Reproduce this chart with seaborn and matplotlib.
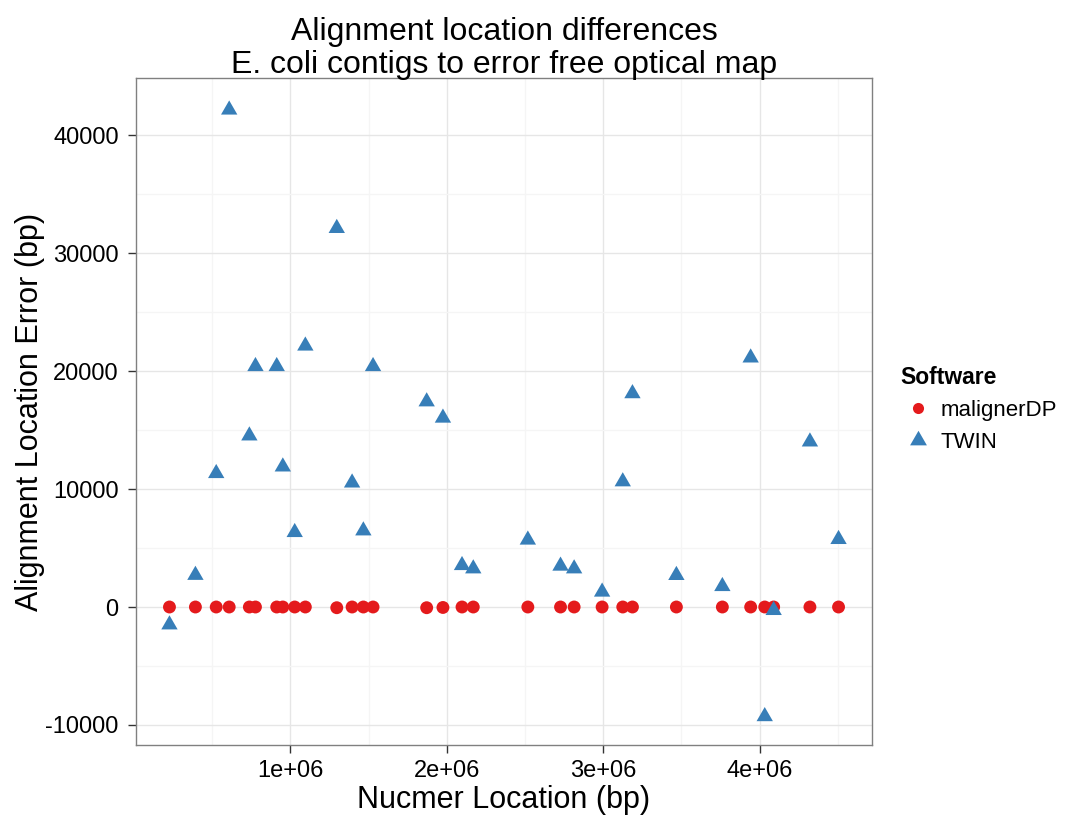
import numpy as np
import pandas as pd
import matplotlib
matplotlib.use("Agg")
import matplotlib.pyplot as plt
from matplotlib.path import Path
from matplotlib.ticker import FixedLocator
import seaborn as sns

# ---- data ----
nucmer_location = [226000, 392000, 525000, 608000, 737000, 776000, 912000, 951000,
                   1027000, 1095000, 1296000, 1394000, 1466000, 1528000, 1871000,
                   1975000, 2097000, 2169000, 2518000, 2727000, 2814000, 2993000,
                   3125000, 3187000, 3468000, 3762000, 3943000, 4033000, 4090000,
                   4322000, 4505000]
maligner_error = [0, 0, 0, 0, 0, 0, 0, 0, 0, 0, -60, 0, 0, 0, -60, -40, 0, 0, 0, 0,
                  0, 0, 0, 0, 0, 0, 0, 0, 0, 0, 0]
twin_error = [-1500, 2700, 11330, 42150, 14520, 20400, 20400, 11890, 6330, 22140,
              32110, 10530, 6470, 20400, 17410, 16030, 3530, 3250, 5690, 3480,
              3250, 1280, 10630, 18100, 2690, 1750, 21130, -9280, -280, 14010, 5740]
software_levels = ["malignerDP", "TWIN"]
x_ticks = [1e6, 2e6, 3e6, 4e6]
x_tick_labels = ["1e+06", "2e+06", "3e+06", "4e+06"]
y_ticks = [-10000, 0, 10000, 20000, 30000, 40000]

df = pd.DataFrame({
    "Nucmer Location (bp)": nucmer_location + nucmer_location,
    "Alignment Location Error (bp)": maligner_error + twin_error,
    "Software": [software_levels[0]] * len(nucmer_location) + [software_levels[1]] * len(nucmer_location),
})

sns.set_theme(style="white")
plt.rcParams["font.family"] = ["Liberation Sans", "DejaVu Sans"]
plt.rcParams["text.color"] = "black"
plt.rcParams["axes.labelcolor"] = "black"
plt.rcParams["xtick.color"] = "#333333"
plt.rcParams["ytick.color"] = "#333333"

fig = plt.figure(figsize=(10.72, 8.16), dpi=100)
ax = fig.add_axes([136 / 1072, 1 - 745 / 816, (872 - 136) / 1072, (745 - 78) / 816])

tri = Path([(0, 1), (-0.866, -0.5), (0.866, -0.5), (0, 1)],
           [Path.MOVETO, Path.LINETO, Path.LINETO, Path.CLOSEPOLY])

sns.scatterplot(data=df, x="Nucmer Location (bp)", y="Alignment Location Error (bp)",
                hue="Software", style="Software", size="Software",
                hue_order=software_levels, style_order=software_levels, size_order=software_levels,
                palette={"malignerDP": "#E41A1C", "TWIN": "#377EB8"},
                markers={"malignerDP": "o", "TWIN": tri},
                sizes={"malignerDP": 86, "TWIN": 185},
                linewidth=0, edgecolor="none", alpha=1, ax=ax, zorder=3)

ax.set_xlim(12000, 4719000)
ax.set_ylim(-11700, 44850)
ax.set_xticks(x_ticks)
ax.set_xticklabels(x_tick_labels)
ax.set_yticks(y_ticks)
ax.set_yticklabels([str(v) for v in y_ticks])
ax.xaxis.set_minor_locator(FixedLocator([0.5e6, 1.5e6, 2.5e6, 3.5e6, 4.5e6]))
ax.yaxis.set_minor_locator(FixedLocator([-5000, 5000, 15000, 25000, 35000]))

ax.grid(True, which="major", color="#E6E6E6", linewidth=1.0, zorder=0)
ax.grid(True, which="minor", color="#F5F5F5", linewidth=1.0, zorder=0)
ax.set_axisbelow(True)
for s in ax.spines.values():
    s.set_color("#808080")
    s.set_linewidth(1.0)

ax.tick_params(axis="both", which="major", direction="out", length=6, width=1.0,
               color="#333333", labelsize=17, labelcolor="black",
               bottom=True, left=True)
ax.tick_params(axis="x", which="major", pad=4.5)
ax.tick_params(axis="y", which="major", pad=6.5)
ax.tick_params(axis="both", which="minor", length=0)

ax.set_xlabel("Nucmer Location (bp)", fontsize=22, labelpad=2.5, color="black")
ax.set_ylabel("Alignment Location Error (bp)", fontsize=22, labelpad=0.5, color="black")
ax.set_title("Alignment location differences\nE. coli contigs to error free optical map",
             fontsize=23, pad=3.5, linespacing=1.15, color="black")

sns.move_legend(ax, loc="upper left", bbox_to_anchor=(900 / 1072, 1 - 366 / 816),
                bbox_transform=fig.transFigure, frameon=False, title="Software",
                fontsize=16, title_fontsize=16.5, handlelength=1.62,
                handletextpad=0.2, labelspacing=0.5, borderpad=0, borderaxespad=0,
                alignment="left")
leg = ax.get_legend()
leg.get_title().set_fontweight("bold")
leg.get_title().set_color("black")
for t in leg.get_texts():
    t.set_color("black")
handles = getattr(leg, "legend_handles", None) or leg.legendHandles
if len(handles) >= 2:
    handles[0].set_markersize(8.0)
    handles[1].set_markersize(14.0)

fig.savefig("out.png", dpi=100)
